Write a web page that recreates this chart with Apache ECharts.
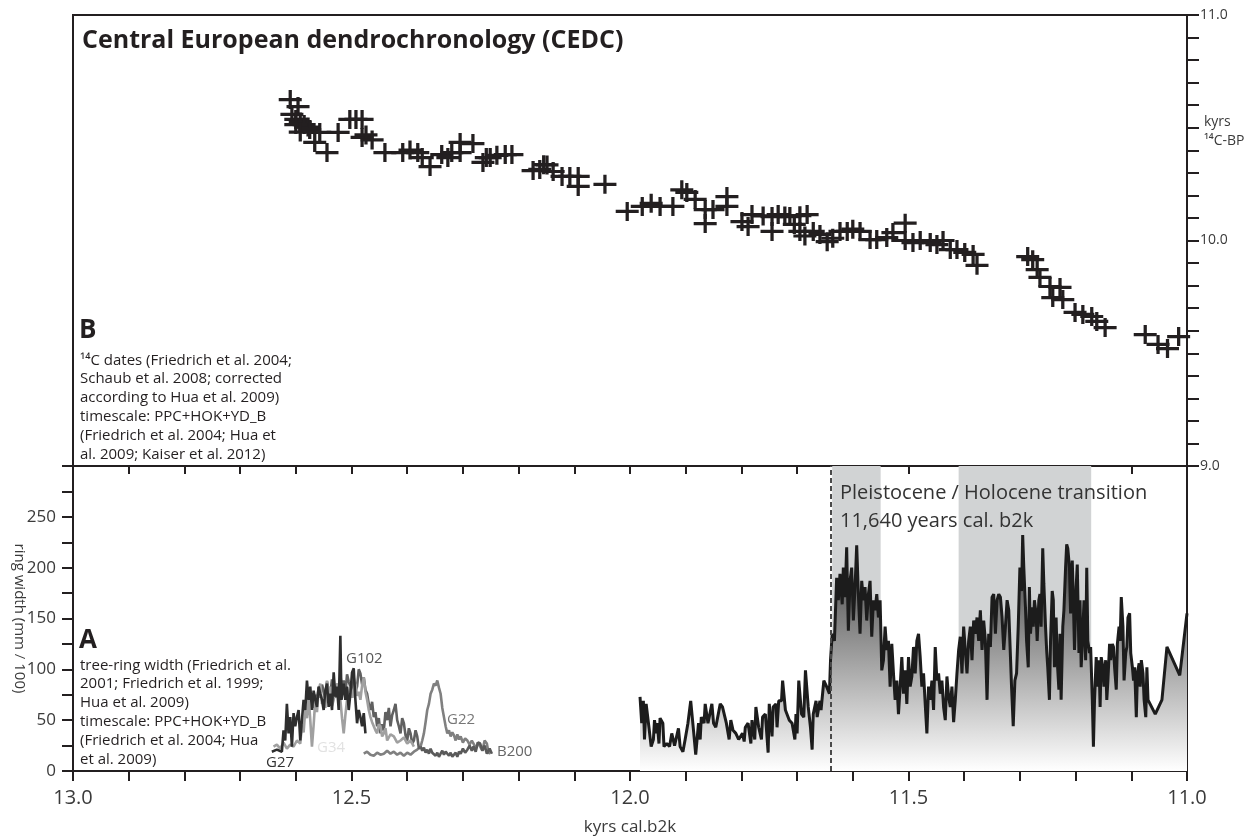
<!DOCTYPE html>
<html><head><meta charset="utf-8">
<script src="https://cdn.jsdelivr.net/npm/echarts@6/dist/echarts.min.js"></script>
<style>html,body{margin:0;padding:0;background:#fff}#c{width:1260px;height:839px}</style>
</head><body><div id="c"></div>
<script>
// ---------- DATA ----------
// Panel B: 14C dates [cal. kyrs b2k, 14C kyrs BP]
const c14Dates = [
[12.610,10.625],[12.596,10.594],[12.607,10.559],[12.600,10.537],[12.592,10.525],[12.585,10.514],[12.578,10.503],[12.600,10.514],[12.575,10.492],[12.592,10.481],[12.557,10.479],[12.524,10.479],[12.566,10.435],[12.544,10.390],[12.503,10.537],[12.492,10.537],[12.481,10.537],[12.481,10.457],[12.474,10.468],[12.463,10.446],[12.440,10.390],[12.408,10.390],[12.395,10.401],[12.381,10.390],[12.373,10.368],[12.359,10.328],[12.338,10.381],[12.327,10.368],[12.320,10.390],[12.305,10.390],[12.305,10.435],[12.282,10.430],[12.264,10.346],[12.258,10.368],[12.251,10.368],[12.239,10.378],[12.224,10.381],[12.212,10.381],[12.174,10.310],[12.162,10.315],[12.155,10.336],[12.149,10.335],[12.138,10.306],[12.122,10.284],[12.108,10.284],[12.093,10.284],[12.093,10.240],[12.045,10.249],[12.005,10.129],[11.978,10.151],[11.962,10.165],[11.946,10.151],[11.923,10.151],[11.907,10.225],[11.898,10.213],[11.883,10.182],[11.865,10.137],[11.865,10.075],[11.851,10.137],[11.826,10.195],[11.826,10.151],[11.799,10.084],[11.788,10.062],[11.781,10.115],[11.761,10.109],[11.745,10.106],[11.745,10.040],[11.734,10.115],[11.722,10.109],[11.713,10.106],[11.705,10.071],[11.695,10.110],[11.682,10.115],[11.695,10.040],[11.686,10.020],[11.671,10.040],[11.659,10.027],[11.646,9.995],[11.636,10.010],[11.623,10.040],[11.610,10.040],[11.600,10.050],[11.587,10.040],[11.569,10.004],[11.557,10.004],[11.539,10.013],[11.528,10.035],[11.506,10.077],[11.492,9.991],[11.506,10.000],[11.479,10.000],[11.461,9.991],[11.449,9.982],[11.438,10.000],[11.425,9.960],[11.413,9.960],[11.399,9.947],[11.384,9.938],[11.377,9.890],[11.286,9.929],[11.277,9.915],[11.269,9.871],[11.264,9.836],[11.246,9.796],[11.228,9.792],[11.241,9.747],[11.223,9.738],[11.201,9.681],[11.187,9.672],[11.171,9.663],[11.162,9.641],[11.147,9.614],[11.075,9.583],[11.052,9.539],[11.035,9.521],[11.015,9.574]
];

// Panel A: main ring-width chronology [cal. kyrs b2k, ring width]
const ringMain = [
[11.982,73],[11.979,47],[11.976,69],[11.974,31],[11.971,66],[11.966,43],[11.962,24],[11.958,31],[11.956,50],[11.953,37],[11.951,47],[11.948,27],[11.946,52],[11.941,47],[11.939,24],[11.934,27],[11.929,24],[11.925,37],[11.920,25],[11.913,42],[11.910,24],[11.905,19],[11.901,31],[11.896,47],[11.891,69],[11.886,40],[11.882,16],[11.877,47],[11.874,31],[11.872,53],[11.867,47],[11.865,66],[11.860,47],[11.853,66],[11.850,47],[11.846,43],[11.838,66],[11.834,63],[11.827,47],[11.822,31],[11.819,50],[11.815,40],[11.810,37],[11.805,31],[11.798,37],[11.795,29],[11.793,43],[11.788,47],[11.783,27],[11.781,50],[11.776,31],[11.774,63],[11.769,43],[11.764,31],[11.762,53],[11.757,56],[11.752,18],[11.750,66],[11.745,34],[11.743,63],[11.738,66],[11.736,43],[11.733,69],[11.728,69],[11.726,89],[11.721,60],[11.714,50],[11.709,47],[11.704,31],[11.702,56],[11.700,37],[11.697,89],[11.692,56],[11.688,53],[11.685,99],[11.680,63],[11.676,43],[11.673,21],[11.671,56],[11.666,69],[11.664,53],[11.659,69],[11.657,60],[11.652,89],[11.647,83],[11.642,76],[11.640,109],[11.637,135],[11.633,128],
[11.629,190],[11.626,168],[11.623,194],[11.619,164],[11.617,200],[11.614,171],[11.611,220],[11.608,138],[11.605,187],[11.602,200],[11.599,148],[11.596,181],[11.593,222],[11.590,174],[11.587,135],[11.584,187],[11.581,168],[11.578,181],[11.575,148],[11.572,174],[11.569,187],[11.566,132],[11.563,168],[11.560,158],[11.557,174],[11.554,151],[11.551,168],[11.548,99],[11.545,109],[11.542,142],[11.539,119],[11.536,128],[11.533,83],[11.530,125],[11.527,96],[11.524,70],[11.521,89],[11.518,56],[11.515,83],[11.512,112],[11.509,76],[11.506,99],[11.503,66],[11.500,112],[11.497,83],[11.494,93],[11.491,122],[11.488,96],[11.485,128],[11.482,135],[11.479,112],[11.476,83],[11.473,96],[11.470,66],[11.467,37],[11.464,83],[11.461,70],[11.458,89],[11.455,60],[11.452,122],[11.449,89],[11.446,96],[11.443,76],[11.440,89],[11.437,63],[11.434,50],[11.431,93],[11.428,73],[11.425,63],[11.422,83],[11.419,48],[11.416,70],[11.413,96],[11.410,119],[11.407,132],[11.404,96],[11.401,142],[11.398,119],[11.395,96],[11.392,128],[11.389,142],[11.386,109],[11.383,148],[11.380,135],[11.377,151],[11.374,128],[11.371,158],[11.368,119],[11.365,148],[11.362,128],[11.359,70],[11.356,135],[11.353,122],[11.350,171],[11.347,174],[11.344,135],[11.341,168],[11.338,174],[11.335,171],[11.332,151],[11.329,119],[11.326,142],[11.323,168],[11.320,158],
[11.318,128],[11.315,83],[11.312,44],[11.309,89],[11.306,96],[11.303,142],[11.300,200],[11.297,177],[11.295,232],[11.293,200],[11.290,161],[11.288,128],[11.285,102],[11.283,181],[11.281,135],[11.278,161],[11.276,142],[11.274,168],[11.271,155],[11.269,128],[11.266,168],[11.264,174],[11.262,142],[11.259,219],[11.257,184],[11.254,142],[11.252,119],[11.250,102],[11.247,70],[11.245,128],[11.242,177],[11.240,168],[11.238,102],[11.235,151],[11.233,109],[11.230,80],[11.228,135],[11.226,70],[11.223,142],[11.221,158],[11.218,200],[11.216,223],[11.214,219],[11.211,200],[11.209,155],[11.206,207],[11.204,168],[11.202,119],[11.199,181],[11.197,203],[11.194,116],[11.192,168],[11.190,102],[11.187,135],[11.185,168],[11.182,109],[11.180,200],[11.178,128],[11.175,116],[11.173,122],[11.170,70],[11.168,24],[11.166,70],[11.163,112],[11.161,83],[11.158,109],[11.156,63],[11.154,112],[11.151,102],[11.149,83],[11.146,109],[11.144,70],[11.142,89],[11.139,125],[11.137,109],[11.134,125],[11.132,122],[11.130,102],[11.127,80],[11.125,125],[11.122,142],[11.120,128],[11.118,171],[11.115,142],[11.113,89],[11.110,116],[11.108,122],[11.106,151],[11.103,155],[11.101,116],[11.098,102],[11.096,89],[11.094,102],[11.091,53],[11.089,96],[11.086,106],[11.084,83],[11.082,109],[11.079,96],[11.077,70],[11.074,53],[11.072,102],[11.070,70],[11.067,70],[11.057,56],[11.045,70],[11.036,122],[11.013,94],[11.000,155]
];

// Floating Late-Glacial chronologies
const ringG27 = [
[12.643,19],[12.634,21],[12.625,19],[12.622,40],[12.619,30],[12.616,66],[12.613,37],[12.610,53],[12.607,24],[12.604,57],[12.601,44],[12.598,53],[12.595,60],[12.592,30],[12.589,50],[12.586,70],[12.583,60],[12.580,89],[12.577,70],[12.574,83],[12.571,60],[12.568,79],[12.565,70],[12.562,63],[12.559,83],[12.556,76],[12.553,70],[12.550,60],[12.547,79],[12.544,86],[12.541,63],[12.538,76],[12.535,60],[12.532,97],[12.529,73],[12.526,83],[12.523,60],[12.520,133],[12.518,70],[12.514,86],[12.511,70],[12.508,83],[12.505,60],[12.502,76],[12.499,97],[12.496,101],[12.493,70],[12.490,47],[12.487,60],[12.484,53],[12.481,44],[12.478,57],[12.475,37]
];
const ringG34 = [
[12.640,24],[12.634,26],[12.628,22],[12.622,28],[12.616,22],[12.610,26],[12.604,24],[12.598,30],[12.592,27],[12.589,45],[12.586,38],[12.583,60],[12.580,52],[12.577,73],[12.574,50],[12.571,24],[12.568,45],[12.565,70],[12.562,58],[12.559,80],[12.556,86],[12.553,66],[12.550,70],[12.547,62],[12.544,89],[12.541,74],[12.538,83],[12.535,64],[12.532,70],[12.529,78],[12.526,86],[12.523,66],[12.520,70],[12.517,52],[12.514,37],[12.511,55],[12.508,70],[12.505,76],[12.502,83],[12.499,72],[12.496,80],[12.493,86],[12.490,74],[12.487,78],[12.484,70],[12.481,84],[12.478,92],[12.475,78],[12.472,70],[12.469,60],[12.466,53],[12.463,48],[12.460,44],[12.457,40],[12.454,37],[12.451,46],[12.448,44],[12.445,34],[12.442,37],[12.439,42],[12.436,30],[12.430,36],[12.424,34],[12.418,28],[12.412,30],[12.406,33],[12.400,27],[12.394,30],[12.388,24]
];
const ringG102 = [
[12.568,62],[12.565,75],[12.562,70],[12.559,82],[12.556,72],[12.553,85],[12.550,79],[12.547,70],[12.544,88],[12.541,78],[12.538,76],[12.535,90],[12.532,80],[12.529,72],[12.526,86],[12.523,78],[12.520,94],[12.517,82],[12.514,89],[12.511,76],[12.508,95],[12.505,88],[12.502,83],[12.499,72],[12.496,92],[12.493,78],[12.490,83],[12.487,100],[12.484,96],[12.481,85],[12.478,92],[12.475,80],[12.472,76],[12.469,66],[12.466,60],[12.463,68],[12.460,53],[12.457,58],[12.454,44],[12.451,52],[12.448,37],[12.445,46],[12.442,40],[12.439,58],[12.436,50],[12.433,62],[12.430,44],[12.427,55],[12.424,60],[12.421,66],[12.418,50],[12.415,44],[12.412,37],[12.409,52],[12.406,47],[12.403,35],[12.400,30],[12.397,42],[12.394,37],[12.391,27],[12.388,30],[12.385,40],[12.382,34],[12.379,22],[12.376,24]
];
const ringG22 = [
[12.478,17],[12.472,19],[12.466,16],[12.460,15],[12.454,18],[12.448,16],[12.442,17],[12.436,20],[12.430,17],[12.424,19],[12.418,16],[12.412,18],[12.406,15],[12.400,18],[12.394,16],[12.388,19],[12.382,21],[12.376,24],[12.373,30],[12.370,37],[12.367,48],[12.364,60],[12.361,66],[12.358,76],[12.355,80],[12.352,86],[12.349,84],[12.346,89],[12.343,82],[12.340,76],[12.337,62],[12.334,53],[12.331,44],[12.328,37],[12.325,40],[12.322,34],[12.319,38],[12.316,35],[12.313,30],[12.310,36],[12.307,31],[12.304,34],[12.300,28],[12.296,32],[12.292,30],[12.288,26],[12.284,30],[12.281,27],[12.277,22],[12.273,28],[12.269,24],[12.265,20],[12.261,30],[12.257,27],[12.254,18],[12.251,17]
];
const ringB200 = [
[12.376,24],[12.373,20],[12.370,23],[12.367,18],[12.364,21],[12.361,17],[12.358,22],[12.355,18],[12.352,19],[12.349,15],[12.346,18],[12.343,14],[12.340,17],[12.337,20],[12.334,16],[12.331,19],[12.328,19],[12.325,15],[12.322,18],[12.319,14],[12.316,15],[12.313,18],[12.310,14],[12.307,19],[12.304,17],[12.300,22],[12.296,18],[12.292,21],[12.288,25],[12.284,20],[12.281,24],[12.277,19],[12.273,28],[12.269,27],[12.265,20],[12.261,25],[12.257,17],[12.252,22],[12.248,17]
];

const shadedPeriods = [[11.637, 11.550], [11.410, 11.172]];
const transitionAge = 11.64;

const xTickLabels = [13.0, 12.5, 12.0, 11.5, 11.0];
const yRingLabels = [0, 50, 100, 150, 200, 250];
const yC14Labels = [9.0, 10.0, 11.0];

// ---------- CHART ----------
const FONT = '"Open Sans", "Noto Sans", sans-serif';
const INK = '#231f20';
const TXT = '#3a3a3a';
const chart = echarts.init(document.getElementById('c'));

const near = (v, list) => list.some(t => Math.abs(v - t) < 1e-6);

const graySeries = (name, data, color) => ({
  name, type: 'line', xAxisIndex: 1, yAxisIndex: 1, data,
  showSymbol: false, silent: true, z: 2,
  lineStyle: { color, width: 2.6 }
});

const txt = (x, y, text, size, fill, extra) => ({
  type: 'text', x, y, z: 100, zlevel: 0,
  style: Object.assign({ text, fontSize: size, fontFamily: FONT, fill, verticalAlign: 'middle' }, extra || {})
});

chart.setOption({
  animation: false,
  backgroundColor: '#fff',
  grid: [
    { left: 73, top: 15, width: 1114, height: 451, show: true, borderColor: INK, borderWidth: 2, backgroundColor: 'transparent' },
    { left: 73, top: 466, width: 1114, height: 305, show: true, borderColor: INK, borderWidth: 2, backgroundColor: 'transparent' }
  ],
  xAxis: [
    { gridIndex: 0, type: 'value', min: 11, max: 13, inverse: true, show: false },
    { gridIndex: 1, type: 'value', min: 11, max: 13, interval: 0.1, inverse: true, position: 'bottom',
      axisLine: { lineStyle: { color: INK, width: 2 } },
      axisTick: { length: 10, lineStyle: { color: INK, width: 2 } },
      axisLabel: { interval: 0, margin: 17, fontSize: 20, color: TXT, fontFamily: FONT,
        formatter: v => near(v, xTickLabels) ? v.toFixed(1) : '' },
      splitLine: { show: false },
      name: 'kyrs cal.b2k', nameLocation: 'middle', nameGap: 48,
      nameTextStyle: { fontSize: 17, color: TXT, fontFamily: FONT } },
    { gridIndex: 1, type: 'value', min: 11, max: 13, interval: 0.1, inverse: true, position: 'top',
      axisLine: { lineStyle: { color: INK, width: 2 } },
      axisTick: { inside: true, length: 8, lineStyle: { color: INK, width: 2 } },
      axisLabel: { show: false }, splitLine: { show: false } }
  ],
  yAxis: [
    { gridIndex: 0, type: 'value', min: 9, max: 11, interval: 0.1, position: 'right',
      axisLine: { show: true, lineStyle: { color: INK, width: 2 } },
      axisTick: { show: true, length: 12, lineStyle: { color: INK, width: 2 } },
      axisLabel: { interval: 0, margin: 13, fontSize: 14, color: TXT, fontFamily: FONT,
        formatter: v => near(v, yC14Labels) ? v.toFixed(1) : '' },
      splitLine: { show: false } },
    { gridIndex: 1, type: 'value', min: 0, max: 300, interval: 25, position: 'left',
      axisLine: { show: true, lineStyle: { color: INK, width: 2 } },
      axisTick: { show: true, length: 11, lineStyle: { color: INK, width: 2 } },
      axisLabel: { interval: 0, margin: 17, fontSize: 17, color: TXT, fontFamily: FONT,
        formatter: v => near(v, yRingLabels) ? String(v) : '' },
      splitLine: { show: false },
      name: 'ring width (mm / 100)', nameLocation: 'middle', nameRotate: -90, nameGap: 46,
      nameMoveOverlap: false,
      nameTextStyle: { fontSize: 15, color: TXT, fontFamily: FONT } }
  ],
  series: [
    { name: '14C', type: 'scatter', xAxisIndex: 0, yAxisIndex: 0, data: c14Dates, silent: true,
      symbol: 'path://M0,8.3H24V11.7H0Z M10.3,0H13.7V20H10.3Z', symbolSize: [23, 19],
      itemStyle: { color: INK, opacity: 1 }, z: 3 },
    { name: 'bands', type: 'line', xAxisIndex: 1, yAxisIndex: 1, data: ringMain, silent: true, z: 1,
      showSymbol: false, lineStyle: { opacity: 0 },
      markArea: { silent: true, itemStyle: { color: '#d1d3d4' },
        data: shadedPeriods.map(p => [{ xAxis: p[0] }, { xAxis: p[1] }]) } },
    graySeries('G22', ringG22, '#808080'),
    graySeries('B200', ringB200, '#5a5a5a'),
    graySeries('G102', ringG102, '#606060'),
    graySeries('G34', ringG34, '#a0a0a0'),
    graySeries('G27', ringG27, '#2e2e2e'),
    { name: 'main', type: 'line', xAxisIndex: 1, yAxisIndex: 1, data: ringMain, silent: true, z: 3,
      showSymbol: false,
      lineStyle: { color: '#1c1c1c', width: 3 },
      areaStyle: { opacity: 1, color: new echarts.graphic.LinearGradient(0, 0, 0, 1, [
        { offset: 0, color: '#383838' }, { offset: 1, color: '#ffffff' }]) },
      markLine: { silent: true, symbol: 'none', label: { show: false },
        lineStyle: { color: '#4a4a4a', type: [5, 3], width: 2 },
        data: [{ xAxis: transitionAge }] } }
  ],
  graphic: [
    txt(82, 41, 'Central European dendrochronology (CEDC)', 25, INK, { fontWeight: 'bold' }),
    txt(79, 331, 'B', 26, INK, { fontWeight: 'bold' }),
    txt(80, 351, '¹⁴C dates (Friedrich et al. 2004;\nSchaub et al. 2008; corrected\naccording to Hua et al. 2009)\ntimescale: PPC+HOK+YD_B\n(Friedrich et al. 2004; Hua et\nal. 2009; Kaiser et al. 2012)', 15, INK, { lineHeight: 18.8, verticalAlign: 'top' }),
    txt(79, 641, 'A', 26, INK, { fontWeight: 'bold' }),
    txt(80, 656, 'tree-ring width (Friedrich et al.\n2001; Friedrich et al. 1999;\nHua et al. 2009)\ntimescale: PPC+HOK+YD_B\n(Friedrich et al. 2004; Hua\net al. 2009)', 15, INK, { lineHeight: 18.8, verticalAlign: 'top' }),
    txt(1204, 122, 'kyrs', 14, TXT),
    txt(1204, 141, '¹⁴C-BP', 14, TXT),
    txt(840, 493, 'Pleistocene / Holocene transition', 20, '#333'),
    txt(840, 521, '11,640 years cal. b2k', 20, '#333'),
    txt(346, 659, 'G102', 15, '#555'),
    txt(447, 720, 'G22', 15, '#777'),
    txt(497, 752, 'B200', 15, '#666'),
    txt(266, 763, 'G27', 15, '#333'),
    txt(317, 748, 'G34', 15, '#e2e2e2')
  ]
});
</script></body></html>
